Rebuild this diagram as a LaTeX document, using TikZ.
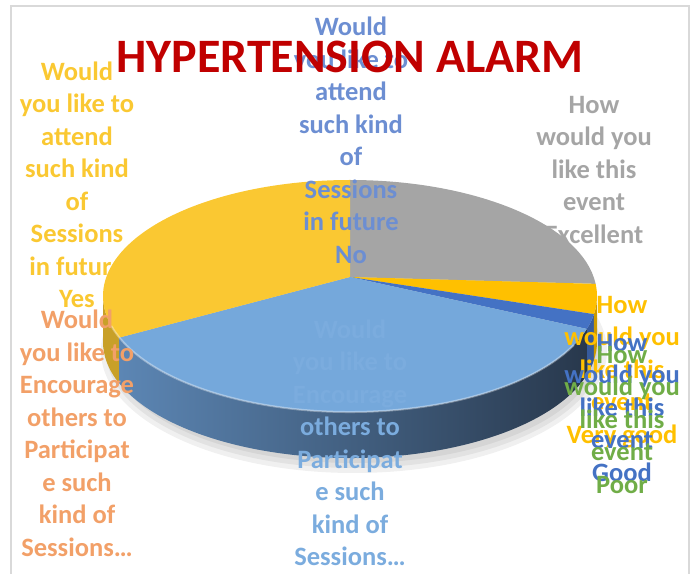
\documentclass[tikz,border=0pt]{standalone}
\usepackage{fontspec}
\setmainfont{Carlito}
\usetikzlibrary{calc}

\definecolor{pieGrey}{RGB}{165,165,165}
\definecolor{pieGold}{RGB}{250,200,50}
\definecolor{pieAmber}{RGB}{255,192,0}
\definecolor{pieNavy}{RGB}{68,114,196}
\definecolor{pieSky}{RGB}{117,168,219}
\definecolor{skyLabel}{RGB}{123,172,222}
\definecolor{navyLabel}{RGB}{108,142,210}
\definecolor{orangeLabel}{RGB}{242,160,104}
\definecolor{greenLabel}{RGB}{112,173,71}
\definecolor{titleRed}{RGB}{192,0,0}
\definecolor{frameGrey}{RGB}{217,217,217}
\definecolor{sideLight}{RGB}{92,134,180}
\definecolor{sideMid}{RGB}{62,96,134}
\definecolor{sideDark}{RGB}{40,56,76}

\tikzset{
  lbl/.style={font=\bfseries\fontsize{26.5}{32.5}\selectfont, align=center, inner sep=0pt},
  ttl/.style={font=\bfseries\fontsize{48}{52}\selectfont, text=titleRed, inner sep=0pt},
}

\begin{document}
\begin{tikzpicture}[x=1pt, y=1pt]
\useasboundingbox (0,0) rectangle (693,573);
\draw[frameGrey, line width=1.5pt] (11,-20) rectangle (689,567);

\pgfmathsetmacro{\pieX}{247}
\pgfmathsetmacro{\pieY}{116}
\pgfmathsetmacro{\pieD}{46}
\coordinate (c) at (350,277);
\coordinate (apex) at (350,296);

\foreach \s in {0,5,10}
\fill[black, opacity=0.06] (354,222) ellipse[x radius=\pieX+\s-4, y radius=\pieY+\s-4];

\foreach \a/\b/\col in {180/201/pieGold, 343.5/351/pieNavy, 351/360/pieAmber}
\fill[\col!80!black] ($(c)+(\a:{\pieX} and {\pieY})$) arc[start angle=\a, end angle=\b, x radius=\pieX, y radius=\pieY] -- ++(0,-\pieD) arc[start angle=\b, end angle=\a, x radius=\pieX, y radius=\pieY] -- cycle;
\shade[left color=sideLight, middle color=sideMid, right color=sideDark] ($(c)+(201:{\pieX} and {\pieY})$) arc[start angle=201, end angle=343.5, x radius=\pieX, y radius=\pieY] -- ++(0,-\pieD) arc[start angle=343.5, end angle=201, x radius=\pieX, y radius=\pieY] -- cycle;

\foreach \a/\b/\col in {90/6/pieGrey, 6/-9/pieAmber, -9/-16.5/pieNavy, -16.5/-159/pieSky, 201/90/pieGold}
\fill[\col] (apex) -- ($(c)+(\a:{\pieX} and {\pieY})$) arc[start angle=\a, end angle=\b, x radius=\pieX, y radius=\pieY] -- cycle;
\draw[white, opacity=0.35, line width=2pt] ($(c)+(195:{\pieX} and {\pieY})$) arc[start angle=195, end angle=335, x radius=\pieX, y radius=\pieY];

\node[lbl, text=pieGold] (yesLbl) at (77,388) {Would\\you like to\\attend\\such kind\\of\\Sessions\\in future\\Yes};
\node[lbl, text=navyLabel] (noLbl) at (351,432.5) {Would\\you like to\\attend\\such kind\\of\\Sessions\\in future\\No};
\node[lbl, text=pieGrey] (excLbl) at (594,403) {How\\would you\\like this\\event\\Excellent};
\node[lbl, text=orangeLabel] (encOrange) at (77,139.5) {Would\\you like to\\Encourage\\others to\\Participat\\e such\\kind of\\Sessions…};
\node[lbl, text=skyLabel] (encSky) at (350,130) {Would\\you like to\\Encourage\\others to\\Participat\\e such\\kind of\\Sessions…};
\node[lbl, text=pieAmber] (vgoodLbl) at (622,201) {How\\would you\\like this\\event\\Very good};
\node[lbl, text=pieNavy] (goodLbl) at (622,165) {How\\would you\\like this\\event\\Good};
\node[lbl, text=greenLabel] (poorLbl) at (622,153) {How\\would you\\like this\\event\\Poor};

\node[ttl] (title) at (350,516) {HYPERTENSION ALARM};
\end{tikzpicture}
\end{document}
